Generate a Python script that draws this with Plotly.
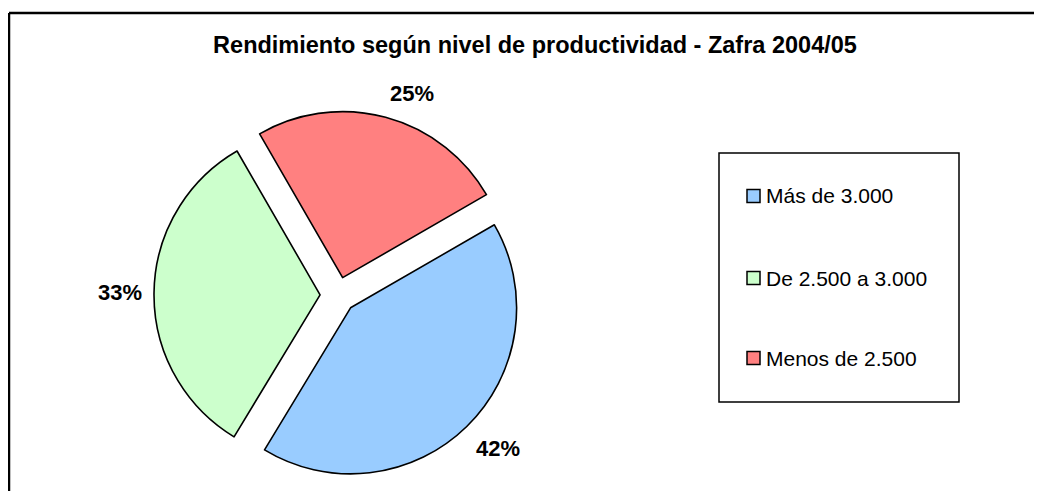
import math
import plotly.graph_objects as go

# Data
categories = ["Más de 3.000", "De 2.500 a 3.000", "Menos de 2.500"]
values = [42, 33, 25]
colors = ["#99CCFF", "#CCFFCC", "#FF8080"]
title_text = "Rendimiento según nivel de productividad - Zafra 2004/05"

# The page adds an 8px body margin, so the figure is 16px smaller than the window
OFF = 8
W, H = 1042 - 2 * OFF, 499 - 2 * OFF


def px(x):
    return (x - OFF) / W


def py(y):
    return 1 - (y - OFF) / H


FONT = "Liberation Sans, Arial, sans-serif"
PULL = 0.108
ROTATION = 60
# pie domain in window pixels
DX0, DX1, DY0, DY1 = 154, 522, 111, 479

fig = go.Figure()
fig.add_trace(go.Pie(
    labels=categories,
    values=values,
    sort=False,
    direction="clockwise",
    rotation=ROTATION,
    pull=[PULL] * len(values),
    marker=dict(colors=colors, line=dict(color="black", width=1.6)),
    textinfo="none",
    domain=dict(x=[px(DX0), px(DX1)], y=[py(DY1), py(DY0)]),
    showlegend=False,
    hoverinfo="label+percent",
))

shapes = []
annotations = []

# Percentage labels placed outside each slice along its bisector
cx, cy = (DX0 + DX1) / 2, (DY0 + DY1) / 2
r = (DX1 - DX0) / 2 / (1 + PULL)
dist = r * (1 + PULL) + 10
total = sum(values)
start = ROTATION
for v in values:
    span = v / total * 360
    mid = math.radians(start + span / 2)
    sx, sy = math.sin(mid), math.cos(mid)
    lx, ly = cx + dist * sx, cy - dist * sy
    xa = "left" if sx > 0.15 else ("right" if sx < -0.15 else "center")
    ya = "bottom" if sy > 0.3 else ("top" if sy < -0.3 else "middle")
    annotations.append(dict(text=f"{round(v / total * 100)}%", xref="paper", yref="paper",
                            x=px(lx), y=py(ly), xanchor=xa, yanchor=ya, showarrow=False,
                            font=dict(family=FONT, size=22, color="black", weight="bold")))
    start += span

# Chart outer border (top and left edges visible; the rest runs off the image)
shapes.append(dict(type="line", xref="paper", yref="paper",
                   x0=px(9), x1=1.2, y0=py(13), y1=py(13),
                   line=dict(color="black", width=2.5)))
shapes.append(dict(type="line", xref="paper", yref="paper",
                   x0=px(9), x1=px(9), y0=py(13), y1=-0.2,
                   line=dict(color="black", width=2.5)))
# Legend box
shapes.append(dict(type="rect", xref="paper", yref="paper",
                   x0=px(719), x1=px(959), y0=py(402), y1=py(153),
                   line=dict(color="black", width=1.5), fillcolor="white"))
item_y = [196, 278, 358]
for cat, col, yc in zip(categories, colors, item_y):
    shapes.append(dict(type="rect", xref="paper", yref="paper",
                       x0=px(747), x1=px(760), y0=py(yc + 6.5), y1=py(yc - 6.5),
                       line=dict(color="black", width=1.5), fillcolor=col))
    annotations.append(dict(text=cat, xref="paper", yref="paper",
                            x=px(764), y=py(yc), xanchor="left", yanchor="middle",
                            showarrow=False,
                            font=dict(family=FONT, size=21, color="black")))

fig.update_layout(
    width=W, height=H,
    margin=dict(l=0, r=0, t=0, b=0),
    paper_bgcolor="white",
    plot_bgcolor="white",
    title=dict(text=title_text, x=px(535), xanchor="center",
               y=py(45), yanchor="middle", xref="paper", yref="container",
               font=dict(family=FONT, size=23.5, color="black", weight="bold")),
    shapes=shapes,
    annotations=annotations,
)

fig.write_html("out.html")
